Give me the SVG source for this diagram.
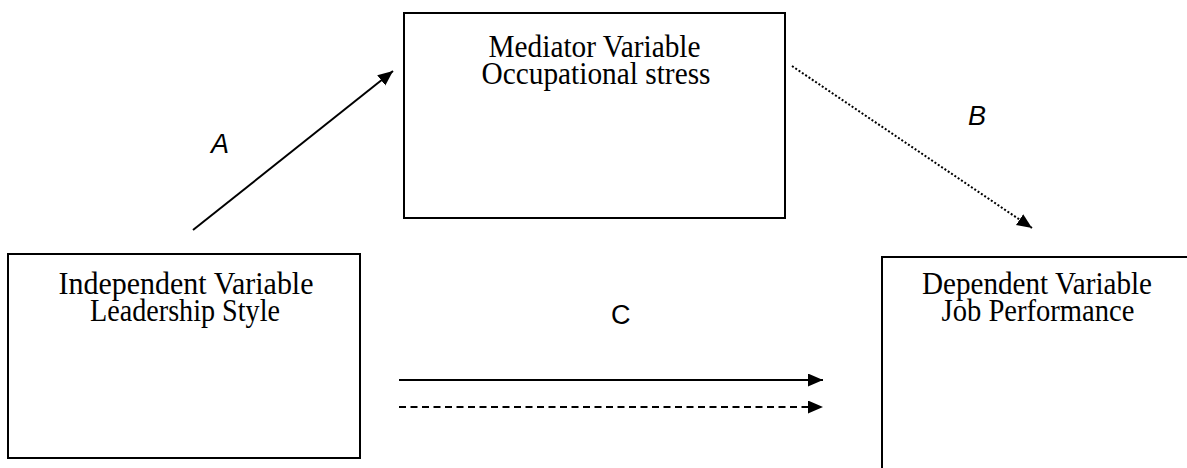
<svg xmlns="http://www.w3.org/2000/svg" width="1187" height="468" viewBox="0 0 1187 468">
  <style>
    .box { fill: #ffffff; stroke: #000000; stroke-width: 2; }
    .t { font-family: "Liberation Serif", "Times New Roman", serif; font-size: 28px; fill: #000000; text-anchor: middle; }
    .lbl { font-family: "Liberation Sans", Arial, sans-serif; font-size: 27px; fill: #000000; }
    .conn { stroke: #000000; stroke-width: 2; fill: none; }
  </style>
  <defs>
    <marker id="arr" markerUnits="userSpaceOnUse" markerWidth="16" markerHeight="14" refX="15" refY="6.5" orient="auto">
      <path d="M0,0 L15,6.5 L0,13 Z" fill="#000000"/>
    </marker>
  </defs>
  <rect width="1187" height="468" fill="#ffffff"/>

  <g id="node-mediator">
    <rect class="box" x="404" y="13" width="381" height="205"/>
    <text class="t" transform="translate(594.5,57) scale(1,1.1)" textLength="212" lengthAdjust="spacingAndGlyphs">Mediator Variable</text>
    <text class="t" transform="translate(596,84) scale(1,1.1)" textLength="229" lengthAdjust="spacingAndGlyphs">Occupational stress</text>
  </g>

  <g id="node-independent">
    <rect class="box" x="8" y="254" width="352" height="204"/>
    <text class="t" transform="translate(186,294) scale(1,1.1)" textLength="255" lengthAdjust="spacingAndGlyphs">Independent Variable</text>
    <text class="t" transform="translate(185,321) scale(1,1.1)" textLength="190" lengthAdjust="spacingAndGlyphs">Leadership Style</text>
  </g>

  <g id="node-dependent">
    <rect class="box" x="882" y="257" width="330" height="240"/>
    <text class="t" transform="translate(1037,294) scale(1,1.1)" textLength="230" lengthAdjust="spacingAndGlyphs">Dependent Variable</text>
    <text class="t" transform="translate(1038,321) scale(1,1.1)" textLength="193" lengthAdjust="spacingAndGlyphs">Job Performance</text>
  </g>

  <g id="connectors">
    <line class="conn" x1="193" y1="230" x2="393" y2="71" marker-end="url(#arr)"/>
    <line class="conn" x1="792" y1="66" x2="1032" y2="228" stroke-width="2.5" stroke-dasharray="2 2" marker-end="url(#arr)"/>
    <line class="conn" x1="399" y1="380" x2="823" y2="380" marker-end="url(#arr)"/>
    <line class="conn" x1="399" y1="407" x2="823" y2="407" stroke-dasharray="7 4.5" marker-end="url(#arr)"/>
  </g>

  <g id="labels">
    <text class="lbl" font-style="italic" x="211" y="153">A</text>
    <text class="lbl" font-style="italic" x="968" y="125">B</text>
    <text class="lbl" x="611" y="324">C</text>
  </g>
</svg>
